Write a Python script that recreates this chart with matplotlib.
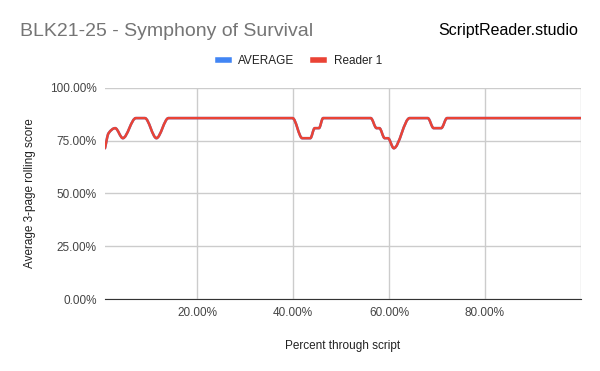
import numpy as np
import matplotlib.pyplot as plt
from matplotlib.path import Path
from matplotlib.patches import PathPatch
from matplotlib.lines import Line2D

plt.rcParams['font.family'] = ['Liberation Sans', 'DejaVu Sans']

# percent through script (x) and 3-page rolling score in % (y)
pct_through = [0.77, 1.5, 2.9, 4.5, 7.2, 9.1, 11.5, 14.0, 39.9, 41.9, 43.6,
               44.5, 45.4, 46.25, 56.2, 57.4, 58.0, 59.1, 59.8, 61.0, 64.3,
               68.1, 69.3, 70.9, 72.1, 100.0]
reader1 = [71.43, 78.5, 80.95, 76.19, 85.71, 85.71, 76.19, 85.71, 85.71, 76.19,
           76.19, 80.95, 80.95, 85.71, 85.71, 80.95, 80.95, 76.19, 76.19, 71.43,
           85.71, 85.71, 80.95, 80.95, 85.71, 85.71]
average = reader1  # only one reader, average sits under it

x_ticks = [20, 40, 60, 80, 100]
x_labels = ['20.00%', '40.00%', '60.00%', '80.00%', '']
y_ticks = [0, 25, 50, 75, 100]
y_labels = ['0.00%', '25.00%', '50.00%', '75.00%', '100.00%']

BLUE = '#4285F4'
RED = '#EA4335'


def smooth_path(x, y):
    # monotone cubic bezier through the points, like the sheets "smooth" line
    x = np.asarray(x, float)
    y = np.asarray(y, float)
    h = np.diff(x)
    d = np.diff(y) / h
    m = np.zeros_like(y)
    m[0], m[-1] = d[0], d[-1]
    for i in range(1, len(y) - 1):
        if d[i - 1] * d[i] <= 0:
            m[i] = 0
        else:
            w1 = 2 * h[i] + h[i - 1]
            w2 = h[i] + 2 * h[i - 1]
            m[i] = (w1 + w2) / (w1 / d[i - 1] + w2 / d[i])
    verts = [(x[0], y[0])]
    codes = [Path.MOVETO]
    for i in range(len(x) - 1):
        verts += [(x[i] + h[i] / 3, y[i] + m[i] * h[i] / 3),
                  (x[i + 1] - h[i] / 3, y[i + 1] - m[i + 1] * h[i] / 3),
                  (x[i + 1], y[i + 1])]
        codes += [Path.CURVE4] * 3
    return Path(verts, codes)


fig = plt.figure(figsize=(6, 3.71), dpi=100)
ax = fig.add_axes([0.175, 0.194, 0.793, 0.569])

ax.add_patch(PathPatch(smooth_path(pct_through, average), fill=False,
                       edgecolor=BLUE, lw=1.8, capstyle='round', joinstyle='round'))
ax.add_patch(PathPatch(smooth_path(pct_through, reader1), fill=False,
                       edgecolor=RED, lw=1.8, capstyle='round', joinstyle='round'))

ax.set_xlim(pct_through[0], pct_through[-1])
ax.set_ylim(0, 100)
ax.set_xticks(x_ticks)
ax.set_xticklabels(x_labels)
ax.set_yticks(y_ticks)
ax.set_yticklabels(y_labels)
ax.grid(True, color='#cccccc', lw=1)
ax.set_axisbelow(True)
for s in ['top', 'right', 'left']:
    ax.spines[s].set_visible(False)
ax.spines['bottom'].set_color('#333333')
ax.tick_params(length=0, labelsize=8.5, colors='#444444')
ax.tick_params(axis='y', pad=6)
ax.tick_params(axis='x', pad=6)

ax.set_xlabel('Percent through script', fontsize=8.5, color='#222222', labelpad=15)
ax.set_ylabel('Average 3-page rolling score', fontsize=8.5, color='#222222', labelpad=10)

fig.text(20 / 600, 1 - 31 / 371, 'BLK21-25 - Symphony of Survival', fontsize=14,
         color='#757575', va='center', ha='left')
fig.text(578 / 600, 1 - 31 / 371, 'ScriptReader.studio', fontsize=11.5,
         color='#000000', va='center', ha='right')

handles = [Line2D([], [], color=BLUE, lw=4), Line2D([], [], color=RED, lw=4)]
fig.legend(handles, ['AVERAGE', 'Reader 1'], loc='center', ncol=2,
           bbox_to_anchor=(0.5, 1 - 61 / 371), frameon=False, fontsize=8.5,
           handlelength=0.9, columnspacing=1.6, handletextpad=0.8,
           labelcolor='#222222')

fig.savefig('out.png', dpi=100)
